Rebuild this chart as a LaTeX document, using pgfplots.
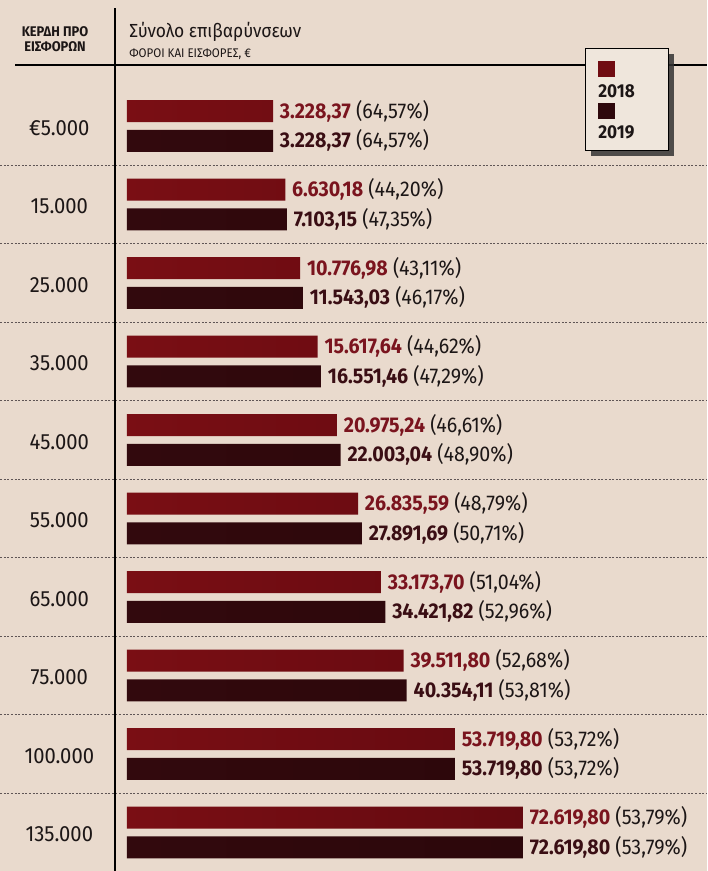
\documentclass[border=0pt]{standalone}
\usepackage{pgfplots}
\pgfplotsset{compat=1.18}
\usepackage{pgfplotstable}
\usepackage{fontspec}
\setmainfont[FakeStretch=0.92]{Fira Sans}
\definecolor{bg}{RGB}{233,218,205}
\definecolor{boxbg}{RGB}{239,230,220}
\definecolor{c18}{RGB}{112,12,18}
\definecolor{c18a}{RGB}{122,14,20}
\definecolor{c18b}{RGB}{100,10,16}
\definecolor{c19}{RGB}{46,8,12}
\definecolor{c19a}{RGB}{50,9,13}
\definecolor{c19b}{RGB}{44,7,11}
\definecolor{t18}{RGB}{122,20,30}
\definecolor{t19}{RGB}{58,14,20}
\definecolor{ink}{RGB}{28,22,22}
\definecolor{sepc}{RGB}{95,85,85}

\pgfplotstableread[col sep=semicolon]{
g;v18;l18;v19;l19
0;3228.37;\textbf{\textcolor{t18}{3.228,37}} (64,57\%);3228.37;\textbf{\textcolor{t19}{3.228,37}} (64,57\%)
1;6630.18;\textbf{\textcolor{t18}{6.630,18}} (44,20\%);7103.15;\textbf{\textcolor{t19}{7.103,15}} (47,35\%)
2;10776.98;\textbf{\textcolor{t18}{10.776,98}} (43,11\%);11543.03;\textbf{\textcolor{t19}{11.543,03}} (46,17\%)
3;15617.64;\textbf{\textcolor{t18}{15.617,64}} (44,62\%);16551.46;\textbf{\textcolor{t19}{16.551,46}} (47,29\%)
4;20975.24;\textbf{\textcolor{t18}{20.975,24}} (46,61\%);22003.04;\textbf{\textcolor{t19}{22.003,04}} (48,90\%)
5;26835.59;\textbf{\textcolor{t18}{26.835,59}} (48,79\%);27891.69;\textbf{\textcolor{t19}{27.891,69}} (50,71\%)
6;33173.70;\textbf{\textcolor{t18}{33.173,70}} (51,04\%);34421.82;\textbf{\textcolor{t19}{34.421,82}} (52,96\%)
7;39511.80;\textbf{\textcolor{t18}{39.511,80}} (52,68\%);40354.11;\textbf{\textcolor{t19}{40.354,11}} (53,81\%)
8;53719.80;\textbf{\textcolor{t18}{53.719,80}} (53,72\%);53719.80;\textbf{\textcolor{t19}{53.719,80}} (53,72\%)
9;72619.80;\textbf{\textcolor{t18}{72.619,80}} (53,79\%);72619.80;\textbf{\textcolor{t19}{72.619,80}} (53,79\%)
}\data

\begin{document}
\begin{tikzpicture}
\fill[bg] (0,0) rectangle (530.25pt,-653.25pt);
\begin{axis}[
  at={(95.25pt,-48.75pt)}, anchor=north west,
  scale only axis, width=435pt, height=604.5pt,
  xmin=0, xmax=161000, ymin=-0.777, ymax=9.49, y dir=reverse,
  axis line style={draw=none}, tick style={draw=none},
  xtick=\empty,
  ytick={0,...,9},
  yticklabels={€5.000,15.000,25.000,35.000,45.000,55.000,65.000,75.000,100.000,135.000},
  yticklabel style={anchor=center, xshift=-46.5pt, yshift=-1.5pt, font=\fontsize{16.5}{18}\selectfont, color=ink},
  clip=false,
  xbar, bar width=16.5pt,
  point meta=explicit symbolic,
  nodes near coords,
  nodes near coords style={anchor=west, inner xsep=0pt, xshift=5pt, font=\fontsize{16}{18}\selectfont, color=ink},
]
\pgfplotsinvokeforeach{0,...,8}{
  \draw[sepc, line width=0.7pt, dash pattern=on 1.5pt off 1.2pt] (axis cs:-35200,#1+0.5) -- (axis cs:161000,#1+0.5);
}
\addplot[xbar, left color=c18a, right color=c18b, draw=none, bar shift=11.1pt] table[x expr=\thisrow{v18}+37300, y=g, meta=l18] {\data};
\addplot[xbar, left color=c19a, right color=c19b, draw=none, bar shift=-11.1pt] table[x expr=\thisrow{v19}+37300, y=g, meta=l19] {\data};
\end{axis}
% frame lines
\draw[black, line width=1.5pt] (86.25pt,-6pt) -- (86.25pt,-653.25pt);
\draw[black, line width=1.5pt] (11.25pt,-48.75pt) -- (530.25pt,-48.75pt);
% headers
\node[align=center, font=\bfseries\fontsize{10.5}{11.25}\selectfont, color=ink, inner sep=0pt] at (41.25pt,-29.6pt) {ΚΕΡΔΗ ΠΡΟ\\ΕΙΣΦΟΡΩΝ};
\node[anchor=base west, inner sep=0pt, font=\fontsize{14.2}{16}\selectfont, color=ink] at (96.75pt,-27.75pt) {Σύνολο επιβαρύνσεων};
\node[anchor=base west, inner sep=0pt, font=\fontsize{9.4}{11}\selectfont, color=ink] at (96.75pt,-43pt) {ΦΟΡΟΙ ΚΑΙ ΕΙΣΦΟΡΕΣ, €};
% legend
\fill[black!80, opacity=0.85] (443.25pt,-40.5pt) rectangle (505.5pt,-117pt);
\filldraw[fill=boxbg, draw=black, line width=0.6pt] (438.75pt,-36pt) rectangle (501pt,-112.5pt);
\fill[c18] (448.5pt,-45.75pt) rectangle (461.25pt,-57.75pt);
\node[anchor=west, inner sep=0pt, font=\bfseries\fontsize{14}{16}\selectfont, color=ink] at (448.5pt,-68.25pt) {2018};
\fill[c19] (448.5pt,-77.25pt) rectangle (461.25pt,-89.25pt);
\node[anchor=west, inner sep=0pt, font=\bfseries\fontsize{14}{16}\selectfont, color=ink] at (448.5pt,-99pt) {2019};
\pgfresetboundingbox
\path (0,0) rectangle (530.25pt,-653.25pt);
\end{tikzpicture}
\end{document}
